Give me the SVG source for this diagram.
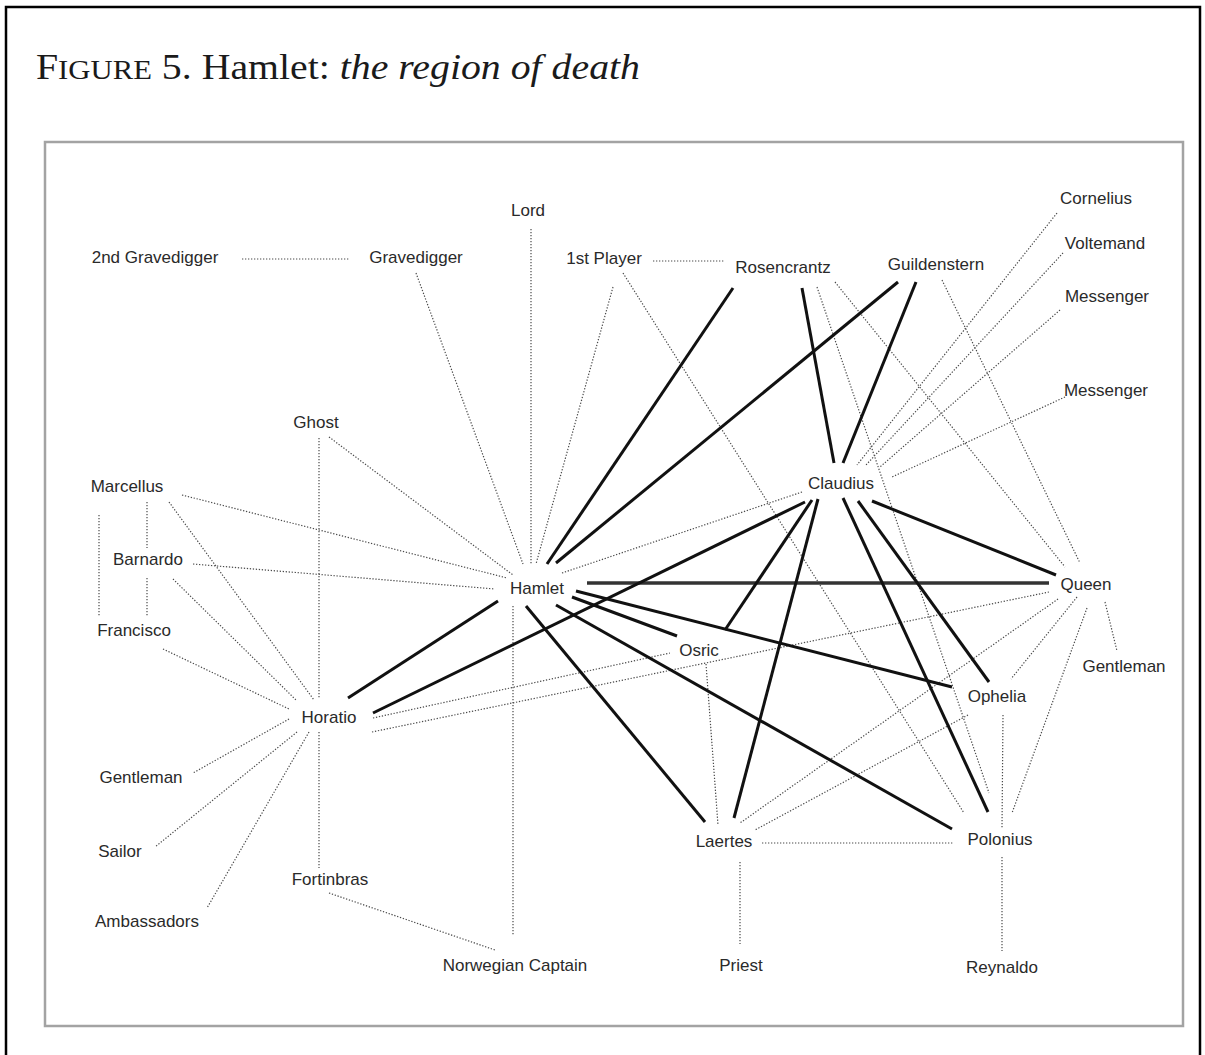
<svg xmlns="http://www.w3.org/2000/svg" width="1205" height="1055" viewBox="0 0 1205 1055">
<style>
.lbl{font-family:"Liberation Sans",Arial,sans-serif;font-size:17px;fill:#2a2a2a;text-anchor:middle}
.weak{stroke:#4a4a4a;stroke-width:1.2;stroke-dasharray:1.3 1.7;fill:none}
.strong{stroke:#111;stroke-width:3;fill:none;stroke-linecap:butt}
.title{font-family:"Liberation Serif","Times New Roman",serif;fill:#1a1a1a}
</style>
<rect x="0" y="0" width="1205" height="1055" fill="#fff"/>
<path d="M6,1055 V7 H1200 V1055" fill="none" stroke="#000" stroke-width="2.5"/>
<text class="title" x="36" y="79" font-size="35" textLength="604" lengthAdjust="spacingAndGlyphs">F<tspan font-size="27">IGURE</tspan> 5. Hamlet: <tspan font-style="italic">the region of death</tspan></text>
<rect x="45" y="142" width="1138" height="884" fill="none" stroke="#a3a3a3" stroke-width="2.5"/>

<g id="connectors">
  <!-- weak (dotted) -->
  <line class="weak" x1="242" y1="259" x2="349" y2="259"/>
  <line class="weak" x1="416" y1="273" x2="523" y2="564"/>
  <line class="weak" x1="531" y1="229" x2="531" y2="564"/>
  <line class="weak" x1="613" y1="287" x2="536" y2="564"/>
  <line class="weak" x1="653" y1="261" x2="725" y2="261"/>
  <line class="weak" x1="623" y1="273" x2="964" y2="813"/>
  <line class="weak" x1="319" y1="438" x2="319" y2="698"/>
  <line class="weak" x1="319" y1="732" x2="319" y2="868"/>
  <line class="weak" x1="329" y1="437" x2="513" y2="575"/>
  <line class="weak" x1="182" y1="495" x2="507" y2="578"/>
  <line class="weak" x1="193" y1="564" x2="495" y2="589"/>
  <line class="weak" x1="147" y1="502" x2="147" y2="548"/>
  <line class="weak" x1="147" y1="578" x2="147" y2="617"/>
  <line class="weak" x1="99" y1="515" x2="99" y2="617"/>
  <line class="weak" x1="169" y1="502" x2="314" y2="700"/>
  <line class="weak" x1="173" y1="579" x2="296" y2="700"/>
  <line class="weak" x1="163" y1="649" x2="289" y2="709"/>
  <line class="weak" x1="289" y1="719" x2="193" y2="773"/>
  <line class="weak" x1="297" y1="732" x2="155" y2="847"/>
  <line class="weak" x1="309" y1="732" x2="207" y2="908"/>
  <line class="weak" x1="329" y1="893" x2="495" y2="950"/>
  <line class="weak" x1="513" y1="606" x2="513" y2="935"/>
  <line class="weak" x1="373" y1="718" x2="670" y2="653"/>
  <line class="weak" x1="372" y1="732" x2="1049" y2="592"/>
  <line class="weak" x1="562" y1="573" x2="802" y2="492"/>
  <line class="weak" x1="706" y1="664" x2="718" y2="825"/>
  <line class="weak" x1="762" y1="843" x2="953" y2="843"/>
  <line class="weak" x1="740" y1="862" x2="740" y2="944"/>
  <line class="weak" x1="1002" y1="857" x2="1002" y2="951"/>
  <line class="weak" x1="1003" y1="715" x2="1002" y2="828"/>
  <line class="weak" x1="968" y1="715" x2="755" y2="830"/>
  <line class="weak" x1="1058" y1="599" x2="740" y2="823"/>
  <line class="weak" x1="1077" y1="597" x2="1011" y2="679"/>
  <line class="weak" x1="1087" y1="608" x2="1012" y2="813"/>
  <line class="weak" x1="1105" y1="602" x2="1117" y2="651"/>
  <line class="weak" x1="835" y1="282" x2="1065" y2="567"/>
  <line class="weak" x1="942" y1="280" x2="1080" y2="563"/>
  <line class="weak" x1="817" y1="287" x2="989" y2="793"/>
  <line class="weak" x1="1057" y1="213" x2="857" y2="465"/>
  <line class="weak" x1="1063" y1="253" x2="866" y2="465"/>
  <line class="weak" x1="1060" y1="310" x2="880" y2="467"/>
  <line class="weak" x1="1065" y1="397" x2="892" y2="477"/>
  <!-- strong (solid) -->
  <line class="strong" x1="547" y1="564" x2="733" y2="288"/>
  <line class="strong" x1="556" y1="563" x2="898" y2="282"/>
  <line class="strong" x1="802" y1="288" x2="834" y2="463"/>
  <line class="strong" x1="916" y1="282" x2="843" y2="463"/>
  <line class="strong" x1="587" y1="583" x2="1049" y2="583" style="stroke:#333;stroke-width:3.5"/>
  <line class="strong" x1="872" y1="501" x2="1056" y2="575"/>
  <line class="strong" x1="805" y1="502" x2="373" y2="713"/>
  <line class="strong" x1="348" y1="698" x2="498" y2="601"/>
  <line class="strong" x1="812" y1="500" x2="725" y2="630"/>
  <line class="strong" x1="818" y1="499" x2="734" y2="818"/>
  <line class="strong" x1="843" y1="498" x2="988" y2="812"/>
  <line class="strong" x1="858" y1="501" x2="989" y2="682"/>
  <line class="strong" x1="572" y1="597" x2="677" y2="636"/>
  <line class="strong" x1="576" y1="591" x2="952" y2="687"/>
  <line class="strong" x1="556" y1="605" x2="952" y2="829"/>
  <line class="strong" x1="526" y1="606" x2="705" y2="822"/>
</g>

<g id="n-gravedigger2"><text class="lbl" x="155" y="263">2nd Gravedigger</text></g>
<g id="n-gravedigger"><text class="lbl" x="416" y="263">Gravedigger</text></g>
<g id="n-lord"><text class="lbl" x="528" y="216">Lord</text></g>
<g id="n-player1"><text class="lbl" x="604" y="264">1st Player</text></g>
<g id="n-rosencrantz"><text class="lbl" x="783" y="273">Rosencrantz</text></g>
<g id="n-guildenstern"><text class="lbl" x="936" y="270">Guildenstern</text></g>
<g id="n-cornelius"><text class="lbl" x="1096" y="204">Cornelius</text></g>
<g id="n-voltemand"><text class="lbl" x="1105" y="249">Voltemand</text></g>
<g id="n-messenger1"><text class="lbl" x="1107" y="302">Messenger</text></g>
<g id="n-messenger2"><text class="lbl" x="1106" y="396">Messenger</text></g>
<g id="n-ghost"><text class="lbl" x="316" y="428">Ghost</text></g>
<g id="n-marcellus"><text class="lbl" x="127" y="492">Marcellus</text></g>
<g id="n-barnardo"><text class="lbl" x="148" y="565">Barnardo</text></g>
<g id="n-francisco"><text class="lbl" x="134" y="636">Francisco</text></g>
<g id="n-horatio"><text class="lbl" x="329" y="723">Horatio</text></g>
<g id="n-hamlet"><text class="lbl" x="537" y="594">Hamlet</text></g>
<g id="n-osric"><text class="lbl" x="699" y="656">Osric</text></g>
<g id="n-claudius"><text class="lbl" x="841" y="489">Claudius</text></g>
<g id="n-queen"><text class="lbl" x="1086" y="590">Queen</text></g>
<g id="n-gentleman2"><text class="lbl" x="1124" y="672">Gentleman</text></g>
<g id="n-ophelia"><text class="lbl" x="997" y="702">Ophelia</text></g>
<g id="n-gentleman1"><text class="lbl" x="141" y="783">Gentleman</text></g>
<g id="n-sailor"><text class="lbl" x="120" y="857">Sailor</text></g>
<g id="n-ambassadors"><text class="lbl" x="147" y="927">Ambassadors</text></g>
<g id="n-fortinbras"><text class="lbl" x="330" y="885">Fortinbras</text></g>
<g id="n-captain"><text class="lbl" x="515" y="971">Norwegian Captain</text></g>
<g id="n-priest"><text class="lbl" x="741" y="971">Priest</text></g>
<g id="n-laertes"><text class="lbl" x="724" y="847">Laertes</text></g>
<g id="n-polonius"><text class="lbl" x="1000" y="845">Polonius</text></g>
<g id="n-reynaldo"><text class="lbl" x="1002" y="973">Reynaldo</text></g>
</svg>
